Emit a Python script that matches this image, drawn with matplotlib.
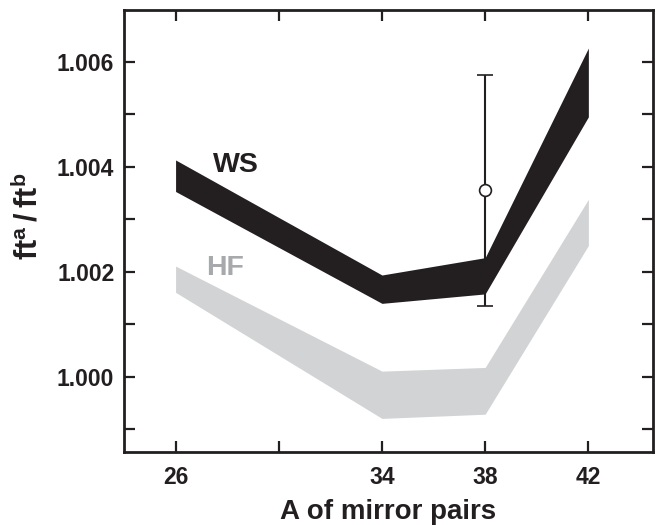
import matplotlib
matplotlib.use("Agg")
import matplotlib.pyplot as plt
from matplotlib.ticker import FixedLocator, FixedFormatter

plt.rcParams['font.family'] = ['Liberation Sans', 'DejaVu Sans']
plt.rcParams['font.weight'] = 'bold'
plt.rcParams['mathtext.fontset'] = 'custom'
plt.rcParams['mathtext.rm'] = 'Liberation Sans'
plt.rcParams['mathtext.bf'] = 'Liberation Sans:bold'

# Data
A = [26, 34, 38, 42]
ws_upper = [1.00413, 1.00194, 1.00227, 1.00626]
ws_lower = [1.00353, 1.00140, 1.00158, 1.00495]
hf_upper = [1.00211, 1.00011, 1.00018, 1.00338]
hf_lower = [1.00161, 0.99921, 0.99929, 1.00250]
exp_A = [38]
exp_val = [1.00355]
exp_err = [0.00220]
xticks_major = [26, 30, 34, 38, 42]
xtick_labels = ['26', '', '34', '38', '42']
yticks_major = [1.000, 1.002, 1.004, 1.006]
ytick_labels = ['1.000', '1.002', '1.004', '1.006']
yticks_minor = [0.999, 1.001, 1.003, 1.005]

fig = plt.figure(figsize=(6.57, 5.25), dpi=100)
ax = fig.add_axes([0.1887, 0.139, 0.805, 0.842])

ax.fill_between(A, hf_lower, hf_upper, color='#d1d3d4', linewidth=0)
ax.fill_between(A, ws_lower, ws_upper, color='#231f20', linewidth=0)

ax.errorbar(exp_A, exp_val, yerr=exp_err, fmt='o', color='#231f20',
            ecolor='#231f20', elinewidth=1.5, capsize=5.5, capthick=1.5,
            markersize=8.5, markerfacecolor='white', markeredgecolor='#231f20',
            markeredgewidth=1.2, zorder=5)

ax.text(28.33, 1.00403, 'WS', fontsize=20.5, fontweight='bold',
        color='#231f20', ha='center', va='center')
ax.text(27.9, 1.00207, 'HF', fontsize=20.5, fontweight='bold',
        color='#a7a9ac', ha='center', va='center')

ax.set_xlim(24, 44.5)
ax.set_ylim(0.99857, 1.006985)

ax.xaxis.set_major_locator(FixedLocator(xticks_major))
ax.xaxis.set_major_formatter(FixedFormatter(xtick_labels))
ax.yaxis.set_major_locator(FixedLocator(yticks_major))
ax.yaxis.set_major_formatter(FixedFormatter(ytick_labels))
ax.yaxis.set_minor_locator(FixedLocator(yticks_minor))

ax.tick_params(axis='both', which='both', direction='in', length=8, width=1.6,
               color='#231f20', top=True, right=True)
ax.tick_params(axis='x', which='major', pad=10)
ax.tick_params(axis='y', which='major', pad=7)
ax.tick_params(axis='both', which='major', labelsize=16.5, labelcolor='#231f20')
for s in ax.spines.values():
    s.set_linewidth(2.0)
    s.set_color('#231f20')
for lab in ax.get_xticklabels() + ax.get_yticklabels():
    lab.set_fontweight('bold')

ax.set_xlabel('A of mirror pairs', fontsize=20, fontweight='bold',
              color='#231f20', labelpad=7)
ax.set_ylabel(r'$\mathbf{ft}^{\mathrm{a}}\mathbf{\,/\,ft}^{\mathrm{b}}$',
              fontsize=22, color='#231f20')
ax.yaxis.set_label_coords(-0.15, 0.532)

fig.savefig('out.png', dpi=100)
